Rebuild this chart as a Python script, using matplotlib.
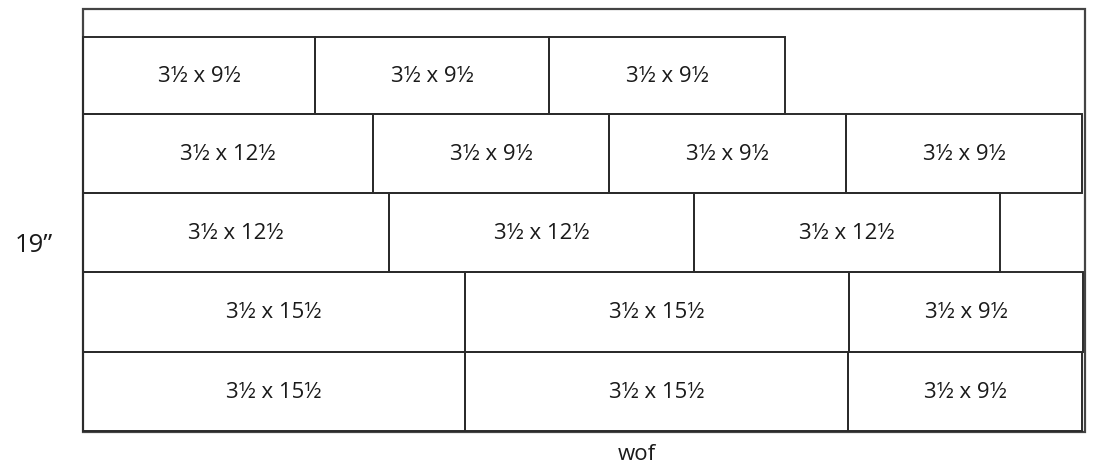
import matplotlib
matplotlib.use("Agg")
import matplotlib.pyplot as plt

plt.rcParams['font.family'] = ['Open Sans', 'DejaVu Sans']

# Cutting layout (units: drawing px)
sheet_left = 83
sheet_right = 1085
sheet_top = 9
sheet_bottom = 432

row_tops = [37, 114, 193, 272, 352]
row_heights = [77, 79, 79, 80, 79]
row_widths = [
    [232, 234, 236],
    [290, 236, 237, 236],
    [306, 305, 306],
    [382, 384, 234],
    [382, 383, 234],
]
row_labels = [
    ["3½ x 9½", "3½ x 9½", "3½ x 9½"],
    ["3½ x 12½", "3½ x 9½", "3½ x 9½", "3½ x 9½"],
    ["3½ x 12½", "3½ x 12½", "3½ x 12½"],
    ["3½ x 15½", "3½ x 15½", "3½ x 9½"],
    ["3½ x 15½", "3½ x 15½", "3½ x 9½"],
]

height_label = "19”"
width_label = "wof"

fig = plt.figure(figsize=(10.93, 4.68), dpi=100)
ax = fig.add_axes([0, 0, 1, 1])
ax.set_xlim(0, 1093)
ax.set_ylim(468, 0)
ax.axis('off')

edge = '#2b2b2b'

# fabric outline
ax.barh(y=(sheet_top + sheet_bottom) / 2, width=sheet_right - sheet_left,
        left=sheet_left, height=sheet_bottom - sheet_top,
        fill=False, edgecolor='#444444', linewidth=1.6)

for top, h, widths, labels in zip(row_tops, row_heights, row_widths, row_labels):
    lefts = []
    x = sheet_left
    for w in widths:
        lefts.append(x)
        x += w
    yc = top + h / 2
    ax.barh(y=[yc] * len(widths), width=widths, left=lefts, height=h,
            fill=False, edgecolor=edge, linewidth=1.4)
    for l, w, lab in zip(lefts, widths, labels):
        ax.text(l + w / 2, yc + 1, lab, ha='center', va='center',
                fontsize=16, color='#1a1a1a')

ax.text(34, 246, height_label, ha='center', va='center', fontsize=18.5, color='#1a1a1a')
ax.text(637, 454, width_label, ha='center', va='center', fontsize=16, color='#1a1a1a')

fig.savefig("out.png", dpi=100)
